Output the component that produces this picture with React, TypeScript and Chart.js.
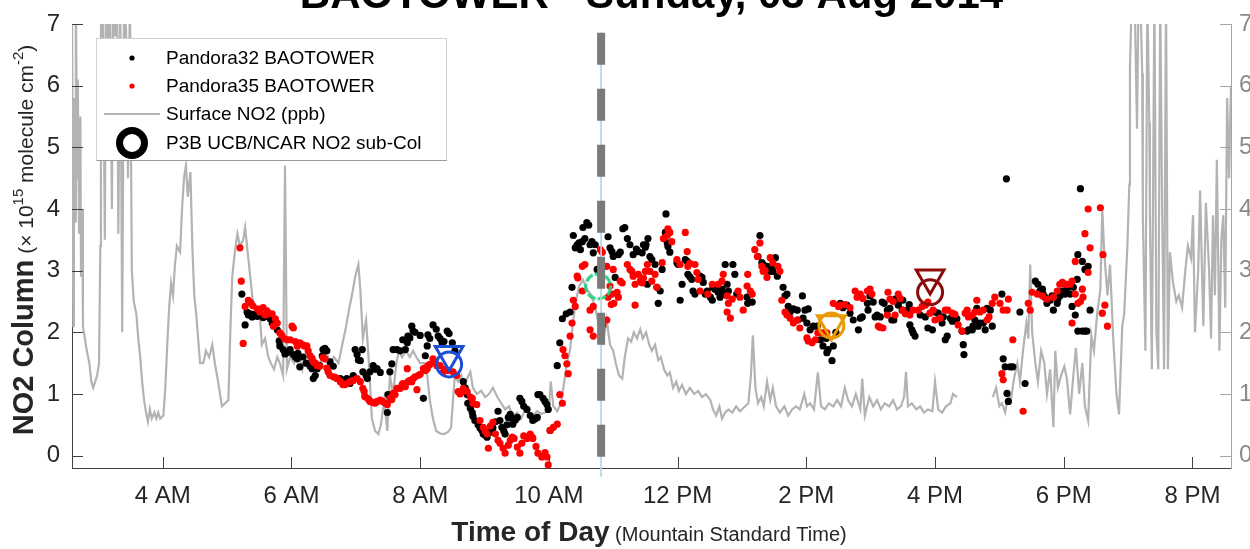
import { useEffect, useRef } from 'react';
import { Chart, registerables } from 'chart.js';

Chart.register(...registerables);

const FONT = '"Liberation Sans", Arial, Helvetica, sans-serif';

const chartTitle = 'BAOTOWER - Sunday, 03 Aug 2014';
const xTitleMain = 'Time of Day';
const xTitleSub = ' (Mountain Standard Time)';
const yTitleMain = 'NO2 Column';

const xTickValues = [4, 6, 8, 10, 12, 14, 16, 18, 20];
const xTickLabels = ['4 AM', '6 AM', '8 AM', '10 AM', '12 PM', '2 PM', '4 PM', '6 PM', '8 PM'];
const yTickValues = [0, 1, 2, 3, 4, 5, 6, 7];

const legendLabels = ['Pandora32 BAOTOWER', 'Pandora35 BAOTOWER', 'Surface NO2 (ppb)', 'P3B UCB/NCAR NO2 sub-Col'];

// Surface NO2 (ppb) : [hour, value]; null = data gap
const surfaceNO2: [number, number | null][] = [
  [2.59,7.5],[2.61,2.1],[2.62,5.8],[2.64,3.8],[2.65,7.5],[2.67,4.5],[2.68,6.1],[2.70,3.6],[2.72,5.5],[2.73,2.9],[2.75,4.0],[2.76,2.1],[2.79,1.9],[2.82,1.7],[2.86,1.5],[2.89,1.2],[2.92,1.1],[2.95,1.2],[2.98,1.3],[3.01,1.5],[3.03,3.4],[3.04,7.5],[3.06,5.0],[3.07,7.5],[3.10,3.5],[3.12,7.5],[3.15,6.6],[3.18,7.5],[3.21,4.0],[3.23,7.5],[3.26,6.8],[3.29,7.5],[3.31,3.6],[3.34,7.5],[3.37,2.0],[3.40,7.5],[3.43,6.9],[3.46,4.5],[3.49,7.5],[3.52,3.0],[3.55,2.5],[3.59,2.3],[3.62,1.9],[3.65,1.6],[3.68,1.2],[3.71,0.9],[3.74,0.7],[3.77,0.55],[3.80,0.75],[3.83,0.6],[3.87,0.7],[3.90,0.6],[3.93,0.7],[3.96,0.6],[4.01,0.65],[4.04,1.1],[4.07,1.8],[4.10,2.4],[4.13,2.8],[4.16,2.6],[4.19,3.1],[4.22,3.4],[4.27,3.3],[4.30,4.0],[4.33,4.5],[4.36,4.7],[4.39,4.2],[4.43,4.6],[4.46,3.4],[4.49,2.6],[4.52,2.3],[4.55,1.9],[4.58,1.5],[4.63,1.5],[4.67,1.7],[4.72,1.6],[4.77,1.8],[4.81,1.5],[4.86,1.2],[4.89,1.0],[4.92,0.8],[4.97,0.85],[5.02,0.9],[5.05,2.0],[5.08,2.9],[5.12,3.3],[5.16,3.6],[5.20,3.4],[5.25,3.5],[5.28,3.7],[5.33,3.2],[5.36,2.9],[5.40,2.5],[5.45,2.3],[5.50,2.4],[5.54,1.8],[5.59,1.9],[5.64,1.6],[5.68,1.5],[5.73,1.4],[5.78,1.6],[5.82,1.5],[5.87,1.3],[5.90,4.7],[5.93,1.4],[5.98,1.6],[6.04,1.5],[6.10,1.8],[6.17,1.4],[6.23,1.7],[6.29,1.5],[6.35,1.6],[6.41,1.4],[6.48,1.6],[6.54,1.7],[6.60,1.5],[6.66,1.6],[6.73,1.5],[6.79,1.8],[6.85,2.1],[6.90,2.4],[6.94,2.6],[6.99,2.9],[7.04,3.1],[7.07,2.7],[7.11,1.9],[7.16,2.2],[7.21,1.4],[7.25,0.6],[7.30,0.4],[7.35,0.35],[7.39,0.5],[7.44,0.9],[7.49,0.4],[7.53,1.3],[7.58,1.0],[7.63,1.5],[7.67,1.7],[7.72,1.6],[7.78,1.7],[7.84,1.6],[7.89,1.7],[7.94,1.6],[8.00,1.5],[8.06,1.5],[8.11,1.3],[8.15,0.9],[8.20,0.6],[8.25,0.4],[8.31,0.36],[8.37,0.35],[8.43,0.38],[8.48,0.45],[8.51,0.9],[8.54,1.3],[8.59,1.2],[8.64,1.3],[8.68,1.1],[8.73,1.25],[8.78,1.36],[8.82,1.1],[8.88,1.0],[8.95,1.05],[9.01,0.95],[9.07,1.0],[9.13,1.1],[9.20,0.95],[9.26,0.85],[9.32,0.75],[9.38,0.8],[9.44,0.65],[9.51,0.7],[9.57,0.6],[9.63,0.75],[9.69,0.7],[9.75,0.65],[9.82,0.72],[9.88,0.68],[9.94,0.7],[10.00,0.75],[10.03,1.2],[10.07,0.8],[10.13,0.72],[10.19,0.85],[10.24,1.2],[10.28,1.5],[10.33,1.72],[10.38,2.2],[10.42,2.5],[10.47,2.75],[10.53,2.85],[10.59,2.7],[10.66,2.6],[10.72,2.4],[10.78,2.1],[10.84,1.85],[10.90,2.2],[10.95,1.8],[11.00,1.7],[11.04,1.5],[11.09,1.3],[11.14,1.25],[11.18,1.6],[11.23,1.9],[11.28,1.85],[11.32,2.0],[11.37,1.9],[11.42,2.05],[11.46,1.9],[11.51,2.0],[11.56,1.8],[11.60,1.7],[11.65,1.8],[11.70,1.55],[11.74,1.6],[11.79,1.4],[11.84,1.3],[11.88,1.35],[11.93,1.1],[11.98,1.2],[12.02,1.05],[12.07,1.15],[12.13,1.0],[12.19,1.1],[12.26,1.0],[12.32,1.05],[12.38,0.95],[12.44,1.0],[12.51,0.9],[12.55,0.75],[12.60,0.65],[12.65,0.8],[12.69,0.6],[12.74,0.7],[12.79,0.75],[12.85,0.7],[12.91,0.8],[12.97,0.72],[13.03,0.78],[13.10,0.85],[13.14,1.3],[13.17,1.95],[13.21,1.1],[13.25,0.85],[13.30,0.95],[13.34,0.8],[13.39,1.2],[13.44,0.9],[13.48,1.1],[13.53,0.8],[13.59,0.7],[13.66,0.8],[13.72,0.65],[13.78,0.75],[13.84,0.8],[13.90,0.75],[13.97,1.0],[14.01,0.8],[14.06,0.85],[14.12,0.75],[14.18,1.35],[14.23,0.8],[14.29,0.75],[14.35,0.85],[14.42,0.8],[14.48,0.9],[14.54,0.8],[14.60,1.1],[14.65,0.9],[14.71,0.8],[14.77,1.0],[14.84,0.75],[14.87,1.25],[14.91,0.65],[14.98,0.95],[15.04,0.8],[15.10,0.9],[15.16,0.75],[15.22,0.85],[15.29,0.8],[15.35,0.9],[15.41,0.75],[15.47,0.8],[15.52,0.95],[15.55,1.36],[15.58,0.8],[15.64,0.85],[15.71,0.75],[15.77,0.8],[15.83,0.7],[15.89,0.75],[15.96,0.72],[16.00,1.2],[16.05,0.75],[16.11,0.7],[16.17,0.8],[16.24,0.85],[16.28,1.0],[16.34,0.95],[16.6,null],[16.90,0.95],[16.95,1.1],[17.00,0.8],[17.04,0.85],[17.09,0.7],[17.14,1.0],[17.18,0.9],[17.23,1.26],[17.28,1.5],[17.32,1.2],[17.37,1.72],[17.42,2.15],[17.45,1.9],[17.48,3.1],[17.51,2.0],[17.56,1.5],[17.60,1.2],[17.65,1.7],[17.70,1.5],[17.74,1.0],[17.79,1.4],[17.84,0.46],[17.87,1.7],[17.91,1.1],[17.96,1.3],[18.01,1.45],[18.05,1.25],[18.10,0.67],[18.15,1.3],[18.19,1.75],[18.24,1.0],[18.29,1.5],[18.33,0.8],[18.38,0.57],[18.43,1.95],[18.47,1.7],[18.52,2.3],[18.57,2.7],[18.60,4.0],[18.63,3.3],[18.68,2.6],[18.72,3.1],[18.77,1.9],[18.82,1.0],[18.86,0.67],[18.91,2.1],[18.94,2.3],[18.99,3.4],[19.02,4.4],[19.03,6.3],[19.06,7.5],[19.11,7.0],[19.14,5.3],[19.16,7.3],[19.19,7.5],[19.22,6.2],[19.23,3.9],[19.27,1.7],[19.30,7.5],[19.33,5.4],[19.34,3.9],[19.37,1.4],[19.41,7.5],[19.44,2.0],[19.47,1.4],[19.50,7.5],[19.53,4.0],[19.56,1.4],[19.59,7.5],[19.62,1.4],[19.65,3.3],[19.70,2.8],[19.75,2.5],[19.79,2.6],[19.84,2.4],[19.89,3.0],[19.93,3.4],[19.98,3.2],[20.01,3.9],[20.04,2.0],[20.09,3.0],[20.12,4.3],[20.17,2.1],[20.21,4.1],[20.26,3.0],[20.29,1.9],[20.32,3.9],[20.35,2.6],[20.38,4.8],[20.42,1.7],[20.45,3.5],[20.48,3.9],[20.51,2.4],[20.54,5.8],[20.57,4.5],[20.60,6.0]
];

// Pandora32 BAOTOWER : [hour, NO2 column]
const pandora32: [number, number][] = [
  [5.23,2.62],[5.28,2.12],[5.31,2.33],[5.33,2.28],[5.36,2.30],[5.39,2.25],[5.44,2.30],[5.47,2.26],[5.51,2.28],[5.56,2.24],[5.62,2.26],[5.67,2.22],[5.70,2.15],[5.73,2.20],[5.78,2.04],[5.81,1.86],[5.82,1.78],[5.87,1.72],[5.90,1.65],[5.93,1.67],[5.98,1.72],[6.03,1.64],[6.06,1.60],[6.09,1.57],[6.10,1.66],[6.13,1.44],[6.18,1.60],[6.23,1.50],[6.29,1.45],[6.32,1.41],[6.34,1.25],[6.37,1.30],[6.40,1.41],[6.44,1.46],[6.48,1.62],[6.49,1.72],[6.52,1.74],[6.55,1.70],[6.60,1.52],[6.65,1.45],[6.71,1.25],[6.76,1.25],[6.80,1.22],[6.86,1.25],[6.91,1.17],[6.96,1.30],[6.99,1.72],[7.02,1.64],[7.04,1.55],[7.07,1.54],[7.10,1.72],[7.11,1.36],[7.16,1.30],[7.18,1.25],[7.22,1.36],[7.27,1.46],[7.30,1.40],[7.33,1.41],[7.38,1.35],[7.49,0.70],[7.50,0.99],[7.53,1.36],[7.56,1.49],[7.58,1.72],[7.64,1.72],[7.69,1.70],[7.73,1.88],[7.77,1.72],[7.80,1.83],[7.81,1.94],[7.84,1.91],[7.87,2.10],[7.89,2.02],[7.92,2.00],[8.00,1.95],[8.05,0.93],[8.08,1.62],[8.11,1.78],[8.12,1.96],[8.15,1.90],[8.20,2.12],[8.25,2.05],[8.28,1.94],[8.31,1.90],[8.34,1.83],[8.37,1.85],[8.42,2.02],[8.45,1.98],[8.50,1.83],[8.54,1.70],[8.67,1.20],[8.70,1.10],[8.73,0.99],[8.74,0.85],[8.78,0.77],[8.81,0.70],[8.82,0.64],[8.85,0.57],[8.90,0.50],[8.93,0.45],[8.96,0.41],[8.98,0.35],[9.01,0.33],[9.04,0.30],[9.09,0.38],[9.13,0.45],[9.17,0.55],[9.21,0.72],[9.24,0.57],[9.27,0.46],[9.30,0.40],[9.32,0.35],[9.35,0.50],[9.37,0.62],[9.40,0.67],[9.43,0.60],[9.44,0.51],[9.48,0.58],[9.51,0.62],[9.55,0.93],[9.58,0.88],[9.61,0.80],[9.66,0.75],[9.71,0.65],[9.75,0.57],[9.79,0.60],[9.82,0.62],[9.83,0.99],[9.86,0.99],[9.91,0.93],[9.94,0.88],[9.97,0.83],[9.99,0.75],[10.02,0.41],[10.13,1.46],[10.17,1.83],[10.21,2.22],[10.27,2.30],[10.33,2.33],[10.36,2.73],[10.38,3.57],[10.41,3.37],[10.44,3.42],[10.47,3.45],[10.49,3.34],[10.52,3.47],[10.53,3.70],[10.56,3.52],[10.59,3.78],[10.62,3.74],[10.64,3.42],[10.67,3.47],[10.69,3.29],[10.72,3.42],[10.75,3.02],[10.92,3.55],[10.95,3.37],[10.98,3.31],[11.00,3.23],[11.03,2.89],[11.08,3.26],[11.11,3.30],[11.15,3.68],[11.18,3.70],[11.22,3.52],[11.26,3.42],[11.31,3.26],[11.36,3.35],[11.39,3.31],[11.45,3.29],[11.47,3.42],[11.50,3.38],[11.51,3.42],[11.53,2.78],[11.54,3.52],[11.57,3.23],[11.60,3.18],[11.65,3.10],[11.68,2.73],[11.70,2.47],[11.73,2.67],[11.76,3.02],[11.81,3.62],[11.82,3.92],[11.84,3.45],[11.85,3.39],[11.88,3.30],[11.99,3.13],[12.01,3.10],[12.04,2.52],[12.07,2.78],[12.12,3.18],[12.15,3.15],[12.16,2.94],[12.19,2.90],[12.22,2.86],[12.24,2.67],[12.27,2.62],[12.35,2.91],[12.38,2.89],[12.40,2.81],[12.43,2.62],[12.46,2.67],[12.51,2.57],[12.54,2.52],[12.55,2.73],[12.58,2.70],[12.61,2.75],[12.63,2.65],[12.66,2.57],[12.69,2.70],[12.71,2.62],[12.74,3.10],[12.77,2.78],[12.79,2.67],[12.86,3.10],[12.89,2.94],[12.92,2.62],[13.08,2.57],[13.09,2.47],[13.16,2.49],[13.25,3.23],[13.28,3.57],[13.31,3.13],[13.33,3.10],[13.36,3.05],[13.39,3.07],[13.44,2.99],[13.47,3.02],[13.48,2.99],[13.52,3.21],[13.55,2.91],[13.64,2.73],[13.67,2.59],[13.70,2.62],[13.72,2.42],[13.75,2.33],[13.80,2.38],[13.86,2.36],[13.87,2.20],[13.94,2.59],[13.95,2.23],[13.98,2.36],[14.01,2.15],[14.03,2.38],[14.06,2.04],[14.11,2.10],[14.17,2.10],[14.22,1.88],[14.26,1.78],[14.31,1.90],[14.32,1.67],[14.34,1.72],[14.40,1.54],[14.42,1.78],[14.46,2.00],[14.53,2.47],[14.57,2.40],[14.63,2.44],[14.68,2.31],[14.73,2.20],[14.81,2.04],[14.84,2.23],[14.87,2.25],[14.95,2.47],[14.96,2.36],[14.99,2.59],[15.04,2.49],[15.07,2.25],[15.10,2.28],[15.15,2.25],[15.18,2.49],[15.21,2.47],[15.26,2.36],[15.30,2.39],[15.33,2.20],[15.36,2.20],[15.38,2.54],[15.43,2.44],[15.46,2.54],[15.49,2.36],[15.50,2.52],[15.57,2.36],[15.60,2.45],[15.61,2.12],[15.64,2.04],[15.66,1.99],[15.69,1.94],[15.77,2.28],[15.85,2.25],[15.89,2.07],[15.96,2.04],[16.00,2.33],[16.05,2.31],[16.11,2.15],[16.13,2.25],[16.16,1.88],[16.19,1.94],[16.24,2.23],[16.27,2.18],[16.31,2.20],[16.34,2.22],[16.42,2.02],[16.44,1.80],[16.45,1.64],[16.50,2.02],[16.52,2.04],[16.58,2.04],[16.59,2.10],[16.62,2.20],[16.65,2.39],[16.67,2.10],[16.70,2.15],[16.75,2.15],[16.78,2.04],[16.81,2.39],[16.86,2.36],[16.89,2.10],[17.04,2.62],[17.06,1.57],[17.09,1.44],[17.11,4.49],[17.12,1.01],[17.14,0.88],[17.17,1.44],[17.21,1.44],[17.32,2.33],[17.40,1.17],[17.56,2.83],[17.60,2.78],[17.63,2.67],[17.67,2.70],[17.68,2.62],[17.71,2.57],[17.74,2.47],[17.79,2.52],[17.82,2.59],[17.84,2.36],[17.90,2.47],[17.91,2.54],[17.94,2.59],[17.98,2.67],[18.02,2.62],[18.05,2.70],[18.10,2.62],[18.13,2.42],[18.15,2.73],[18.18,2.28],[18.21,2.86],[18.22,3.26],[18.26,4.33],[18.22,2.02],[18.29,3.15],[18.29,2.02],[18.33,3.02],[18.33,2.02],[18.36,2.02],[18.38,3.07],[18.41,2.36]
];

// Pandora35 BAOTOWER : [hour, NO2 column]
const pandora35: [number, number][] = [
  [5.20,3.37],[5.22,2.83],[5.25,1.82],[5.28,2.42],[5.33,2.52],[5.37,2.48],[5.40,2.43],[5.47,2.38],[5.51,2.33],[5.56,2.40],[5.59,2.28],[5.62,2.35],[5.65,2.30],[5.70,2.30],[5.72,2.10],[5.75,2.22],[5.78,2.15],[5.82,1.99],[5.85,1.95],[5.89,1.90],[5.93,1.88],[5.98,1.88],[6.01,2.10],[6.03,2.07],[6.06,1.85],[6.09,1.78],[6.13,1.83],[6.17,1.80],[6.20,1.78],[6.24,1.78],[6.26,1.70],[6.29,1.62],[6.32,1.58],[6.34,1.52],[6.37,1.50],[6.40,1.46],[6.44,1.45],[6.49,1.59],[6.52,1.57],[6.55,1.42],[6.57,1.36],[6.60,1.30],[6.65,1.28],[6.68,1.27],[6.71,1.25],[6.76,1.20],[6.80,1.15],[6.83,1.15],[6.86,1.17],[6.91,1.20],[6.96,1.22],[7.02,1.25],[7.07,1.20],[7.11,1.09],[7.13,1.04],[7.14,0.96],[7.18,0.93],[7.21,0.90],[7.22,0.88],[7.27,0.86],[7.30,0.85],[7.33,0.88],[7.38,0.90],[7.42,0.88],[7.46,0.85],[7.49,0.83],[7.53,0.93],[7.56,0.91],[7.58,1.01],[7.61,0.99],[7.64,1.09],[7.69,1.09],[7.72,1.15],[7.73,1.17],[7.77,1.12],[7.80,1.41],[7.81,1.20],[7.84,1.22],[7.87,1.20],[7.89,1.25],[7.92,1.28],[7.95,1.07],[7.97,1.30],[8.00,1.32],[8.05,1.41],[8.08,1.38],[8.11,1.41],[8.12,1.46],[8.15,1.48],[8.20,1.57],[8.23,1.52],[8.26,1.46],[8.31,1.46],[8.36,1.36],[8.39,1.40],[8.43,1.38],[8.51,1.36],[8.57,1.30],[8.59,1.04],[8.62,1.00],[8.67,1.09],[8.70,1.05],[8.73,1.04],[8.78,0.95],[8.81,0.93],[8.82,0.85],[8.88,0.83],[8.93,0.57],[8.98,0.46],[9.01,0.40],[9.04,0.35],[9.06,0.12],[9.09,0.48],[9.13,0.54],[9.17,0.35],[9.21,0.25],[9.24,0.20],[9.29,0.12],[9.32,0.04],[9.37,0.17],[9.40,0.25],[9.43,0.30],[9.46,0.28],[9.51,0.14],[9.55,0.04],[9.58,0.20],[9.61,0.32],[9.66,0.28],[9.71,0.35],[9.74,0.30],[9.75,0.28],[9.80,0.15],[9.83,0.04],[9.89,-0.02],[9.94,0.05],[9.97,-0.02],[9.99,-0.15],[10.02,0.41],[10.07,0.46],[10.13,0.51],[10.17,0.99],[10.21,0.85],[10.22,1.72],[10.25,1.62],[10.28,1.49],[10.30,1.33],[10.33,1.94],[10.36,2.15],[10.38,2.52],[10.41,2.42],[10.44,2.91],[10.45,2.88],[10.52,3.07],[10.56,3.10],[10.52,2.67],[10.64,2.36],[10.64,2.04],[10.69,1.94],[10.69,2.42],[10.80,3.34],[10.83,3.30],[10.84,2.12],[10.90,3.07],[10.90,2.20],[10.92,2.57],[10.95,2.75],[10.97,2.45],[10.98,2.62],[11.00,3.02],[11.01,2.47],[11.06,2.65],[11.08,2.57],[11.11,2.83],[11.14,2.80],[11.22,3.10],[11.26,3.02],[11.29,2.99],[11.31,2.91],[11.34,2.78],[11.34,2.44],[11.39,2.94],[11.42,2.83],[11.45,2.80],[11.47,2.88],[11.50,2.99],[11.53,3.10],[11.57,2.99],[11.60,2.83],[11.65,2.94],[11.68,2.73],[11.76,3.13],[11.78,3.52],[11.84,3.57],[11.85,3.68],[11.88,3.62],[11.91,3.47],[11.99,3.18],[12.04,3.10],[12.12,3.62],[12.15,3.31],[12.16,3.07],[12.19,3.12],[12.27,3.10],[12.30,2.97],[12.32,2.86],[12.35,2.67],[12.47,2.62],[12.54,2.78],[12.63,2.78],[12.69,2.83],[12.71,2.94],[12.77,2.59],[12.77,2.33],[12.79,2.47],[12.82,2.23],[12.85,2.54],[12.94,2.67],[12.97,2.57],[13.02,2.36],[13.08,2.75],[13.09,2.94],[13.13,2.67],[13.16,2.62],[13.20,3.34],[13.24,3.23],[13.28,3.45],[13.31,3.07],[13.33,2.99],[13.36,3.00],[13.39,2.89],[13.44,3.21],[13.48,3.13],[13.56,3.07],[13.59,2.99],[13.62,2.52],[13.67,2.33],[13.70,2.28],[13.75,2.23],[13.80,2.15],[13.86,2.20],[13.90,2.07],[14.01,1.91],[14.03,1.86],[14.09,1.83],[14.14,1.88],[14.18,1.99],[14.25,1.99],[14.32,1.99],[14.42,2.47],[14.50,2.42],[14.53,2.44],[14.60,2.45],[14.68,2.40],[14.76,2.67],[14.79,2.57],[14.84,2.62],[14.88,2.55],[14.95,2.67],[14.99,2.70],[15.02,2.62],[15.12,2.10],[15.15,2.08],[15.19,2.07],[15.26,2.28],[15.27,2.65],[15.30,2.54],[15.35,2.50],[15.38,2.28],[15.43,2.62],[15.46,2.55],[15.50,2.36],[15.54,2.30],[15.61,2.28],[15.66,2.36],[15.74,2.36],[15.80,2.42],[15.85,2.44],[15.89,2.49],[15.92,2.31],[15.97,2.36],[16.00,2.20],[16.08,2.23],[16.16,2.36],[16.20,2.36],[16.27,2.31],[16.31,2.29],[16.36,2.12],[16.42,2.02],[16.47,2.31],[16.50,2.36],[16.52,2.25],[16.58,2.28],[16.62,2.33],[16.65,2.52],[16.70,2.33],[16.75,2.36],[16.81,2.20],[16.84,2.25],[16.89,2.47],[16.93,2.57],[17.01,2.47],[17.04,1.33],[17.06,1.23],[17.06,2.36],[17.12,2.36],[17.14,2.54],[17.21,1.88],[17.37,0.72],[17.45,2.47],[17.48,2.36],[17.51,2.65],[17.59,2.62],[17.67,2.59],[17.74,2.54],[17.84,2.57],[17.90,2.67],[17.94,2.78],[17.98,2.81],[18.02,2.78],[18.05,2.78],[18.10,2.78],[18.13,2.83],[18.13,2.15],[18.18,3.15],[18.18,2.62],[18.22,2.47],[18.26,2.50],[18.29,2.70],[18.30,2.57],[18.33,3.60],[18.38,4.00],[18.41,3.37],[18.38,2.97],[18.57,4.02],[18.61,3.26],[18.64,2.44],[18.60,2.31],[18.68,2.10]
];

// P3B UCB/NCAR NO2 sub-column overpasses
const p3bTime = [8.45, 10.765, 14.39, 15.924];
const p3bCircle = [1.48, 2.745, 2.11, 2.65];
const p3bTriangle = [1.64, null, 2.14, 2.88];
const p3bColors = ['#1a50d6', '#2fcf85', '#e89a00', '#8b0a0a'];

// vertical dashed marker (time and vertical extent)
const markerTime = [10.812];
const markerSpan = [6.86, -0.34];

const X_MIN = 2.59;
const X_MAX = 20.6;
const Y_MIN = -0.2;
const Y_MAX = 7;

const decorPlugin = {
  id: 'decor',
  afterDraw(chart: any) {
    const { ctx, chartArea, scales } = chart;
    const xs = scales.x;
    const ys = scales.y;
    ctx.save();
    // inward tick marks
    ctx.lineWidth = 1;
    ctx.strokeStyle = '#404040';
    ctx.beginPath();
    for (const v of yTickValues) {
      const py = Math.round(ys.getPixelForValue(v)) + 0.5;
      ctx.moveTo(chartArea.left, py);
      ctx.lineTo(chartArea.left + 11, py);
    }
    for (const v of xTickValues) {
      const px = Math.round(xs.getPixelForValue(v)) + 0.5;
      ctx.moveTo(px, chartArea.bottom);
      ctx.lineTo(px, chartArea.bottom - 11);
    }
    ctx.stroke();
    ctx.strokeStyle = '#a6a6a6';
    ctx.beginPath();
    for (const v of yTickValues) {
      const py = Math.round(ys.getPixelForValue(v)) + 0.5;
      ctx.moveTo(chartArea.right, py);
      ctx.lineTo(chartArea.right - 11, py);
    }
    ctx.stroke();

    // title (partly above the canvas)
    ctx.fillStyle = '#000';
    ctx.font = `bold 42px ${FONT}`;
    ctx.textAlign = 'center';
    ctx.textBaseline = 'alphabetic';
    ctx.fillText(chartTitle, (chartArea.left + chartArea.right) / 2, 8);

    // x axis title
    ctx.textAlign = 'left';
    ctx.fillStyle = '#262626';
    const fMain = `bold 28px ${FONT}`;
    const fSub = `20px ${FONT}`;
    ctx.font = fMain;
    const wMain = ctx.measureText(xTitleMain).width;
    ctx.font = fSub;
    const wSub = ctx.measureText(xTitleSub).width;
    const sx = 649 - (wMain + wSub) / 2;
    ctx.font = fMain;
    ctx.fillText(xTitleMain, sx, 541);
    ctx.font = fSub;
    ctx.fillText(xTitleSub, sx + wMain, 541);

    // y axis title (rotated)
    const parts = [
      { t: yTitleMain, f: `bold 29px ${FONT}`, dy: 0 },
      { t: ' (\u00d7 10', f: `21px ${FONT}`, dy: 0 },
      { t: '15', f: `15px ${FONT}`, dy: -10 },
      { t: ' molecule cm', f: `21px ${FONT}`, dy: 0 },
      { t: '-2', f: `15px ${FONT}`, dy: -10 },
      { t: ')', f: `21px ${FONT}`, dy: 0 },
    ];
    let total = 0;
    const widths = parts.map((p) => {
      ctx.font = p.f;
      const w = ctx.measureText(p.t).width;
      total += w;
      return w;
    });
    ctx.save();
    ctx.translate(33, 240);
    ctx.rotate(-Math.PI / 2);
    let cx = -total / 2;
    parts.forEach((p, i) => {
      ctx.font = p.f;
      ctx.fillText(p.t, cx, p.dy);
      cx += widths[i];
    });
    ctx.restore();

    // legend box
    const lx = 96.5, ly = 38.5, lw = 350, lh = 122;
    ctx.fillStyle = '#ffffff';
    ctx.fillRect(lx, ly, lw, lh);
    ctx.strokeStyle = '#d0d0d0';
    ctx.lineWidth = 1;
    ctx.strokeRect(lx, ly, lw, lh);
    ctx.strokeStyle = '#9a9a9a';
    ctx.beginPath();
    ctx.moveTo(lx, ly + lh);
    ctx.lineTo(lx + lw, ly + lh);
    ctx.stroke();

    const rows = [58, 86, 114, 143];
    const mx = 132;
    ctx.fillStyle = '#000';
    ctx.beginPath();
    ctx.arc(mx, rows[0], 2.6, 0, Math.PI * 2);
    ctx.fill();
    ctx.fillStyle = '#ff0000';
    ctx.beginPath();
    ctx.arc(mx, rows[1], 2.6, 0, Math.PI * 2);
    ctx.fill();
    ctx.strokeStyle = '#b3b3b3';
    ctx.lineWidth = 2;
    ctx.beginPath();
    ctx.moveTo(104, rows[2]);
    ctx.lineTo(160, rows[2]);
    ctx.stroke();
    ctx.strokeStyle = '#000';
    ctx.lineWidth = 7;
    ctx.beginPath();
    ctx.arc(mx, rows[3], 12.5, 0, Math.PI * 2);
    ctx.stroke();

    ctx.fillStyle = '#000';
    ctx.font = `19px ${FONT}`;
    ctx.textBaseline = 'middle';
    legendLabels.forEach((t, i) => ctx.fillText(t, 166, rows[i] + 1));
    ctx.restore();
  },
};

export default function App() {
  const ref = useRef<HTMLCanvasElement>(null);

  useEffect(() => {
    const canvas = ref.current;
    if (!canvas) return;

    const dashed = document.createElement('canvas');
    dashed.width = 34;
    dashed.height = 34;
    const dctx = dashed.getContext('2d');
    if (dctx) {
      dctx.strokeStyle = p3bColors[1];
      dctx.lineWidth = 3;
      dctx.setLineDash([9, 2]);
      dctx.beginPath();
      dctx.arc(17, 17, 12.5, 0, Math.PI * 2);
      dctx.stroke();
    }

    const tickFont = { family: FONT, size: 24, lineHeight: 1 };

    const chart = new Chart(canvas, {
      type: 'scatter',
      data: {
        datasets: [
          {
            label: 'marker',
            data: markerSpan.map((v) => ({ x: markerTime[0], y: v })),
            showLine: true,
            borderColor: '#7a7a7a',
            borderWidth: 8,
            borderDash: [32, 24],
            pointRadius: 0,
            clip: false,
            order: 1,
          } as any,
          {
            label: 'markerThin',
            data: markerSpan.map((v) => ({ x: markerTime[0], y: v })),
            showLine: true,
            borderColor: '#add8e6',
            borderWidth: 1,
            pointRadius: 0,
            clip: false,
            order: 2,
          } as any,
          {
            label: 'P3B circle',
            data: p3bTime.map((t, i) => ({ x: t, y: p3bCircle[i] })),
            pointStyle: ['circle', dashed, 'circle', 'circle'],
            pointRadius: 12.5,
            pointBorderWidth: 3,
            pointBorderColor: p3bColors,
            borderColor: p3bColors,
            pointBackgroundColor: 'rgba(0,0,0,0)',
            backgroundColor: 'rgba(0,0,0,0)',
            order: 3,
          } as any,
          {
            label: 'P3B triangle',
            data: p3bTime.map((t, i) => ({ x: t, y: p3bTriangle[i] })),
            pointStyle: 'triangle',
            pointRotation: 180,
            pointRadius: 16,
            pointBorderWidth: 3,
            pointBorderColor: p3bColors,
            borderColor: p3bColors,
            pointBackgroundColor: 'rgba(0,0,0,0)',
            backgroundColor: 'rgba(0,0,0,0)',
            order: 4,
          } as any,
          {
            label: legendLabels[1],
            data: pandora35.map(([t, v]) => ({ x: t, y: v })),
            pointRadius: 3.6,
            pointBorderWidth: 0,
            pointBackgroundColor: '#ff0000',
            backgroundColor: '#ff0000',
            borderColor: '#ff0000',
            order: 5,
          } as any,
          {
            label: legendLabels[0],
            data: pandora32.map(([t, v]) => ({ x: t, y: v })),
            pointRadius: 3.6,
            pointBorderWidth: 0,
            pointBackgroundColor: '#000000',
            backgroundColor: '#000000',
            borderColor: '#000000',
            order: 6,
          } as any,
          {
            label: legendLabels[2],
            data: surfaceNO2.map(([t, v]) => ({ x: t, y: v })),
            showLine: true,
            spanGaps: false,
            borderColor: '#b3b3b3',
            borderWidth: 2.2,
            borderJoinStyle: 'miter',
            pointRadius: 0,
            order: 7,
          } as any,
        ],
      },
      options: {
        responsive: false,
        animation: false,
        devicePixelRatio: 1,
        events: [],
        layout: { padding: { top: 14, left: 0, right: 0, bottom: 0 } },
        plugins: {
          legend: { display: false },
          tooltip: { enabled: false },
          title: { display: false },
        },
        scales: {
          x: {
            type: 'linear',
            position: 'bottom',
            min: X_MIN,
            max: X_MAX,
            grid: { display: false, drawTicks: false },
            border: { display: true, color: '#404040', width: 1 },
            afterBuildTicks: (s: any) => {
              s.ticks = xTickValues.map((v) => ({ value: v }));
            },
            afterFit: (s: any) => {
              s.height = 81;
            },
            ticks: {
              autoSkip: false,
              maxRotation: 0,
              minRotation: 0,
              padding: 16,
              color: '#262626',
              font: tickFont,
              callback: (v: any) => {
                const i = xTickValues.indexOf(Number(v));
                return i >= 0 ? xTickLabels[i] : '';
              },
            },
          },
          y: {
            type: 'linear',
            position: 'left',
            min: Y_MIN,
            max: Y_MAX,
            grid: { display: false, drawTicks: false },
            border: { display: true, color: '#404040', width: 1 },
            afterBuildTicks: (s: any) => {
              s.ticks = yTickValues.map((v) => ({ value: v }));
            },
            afterFit: (s: any) => {
              s.width = 72;
            },
            ticks: {
              padding: 12,
              color: '#262626',
              font: tickFont,
              callback: (v: any) => String(v),
            },
          },
          y2: {
            type: 'linear',
            position: 'right',
            min: Y_MIN,
            max: Y_MAX,
            grid: { display: false, drawTicks: false },
            border: { display: true, color: '#a6a6a6', width: 1 },
            afterBuildTicks: (s: any) => {
              s.ticks = yTickValues.map((v) => ({ value: v }));
            },
            afterFit: (s: any) => {
              s.width = 19;
            },
            ticks: {
              padding: 8,
              color: '#8a8a8a',
              font: tickFont,
              callback: (v: any) => String(v),
            },
          },
        },
      } as any,
      plugins: [decorPlugin],
    });

    return () => chart.destroy();
  }, []);

  return (
    <div style={{ position: 'fixed', left: 0, top: 0, width: 1250, height: 549, background: '#ffffff' }}>
      <canvas ref={ref} width={1250} height={549} style={{ display: 'block', width: 1250, height: 549 }} />
    </div>
  );
}
